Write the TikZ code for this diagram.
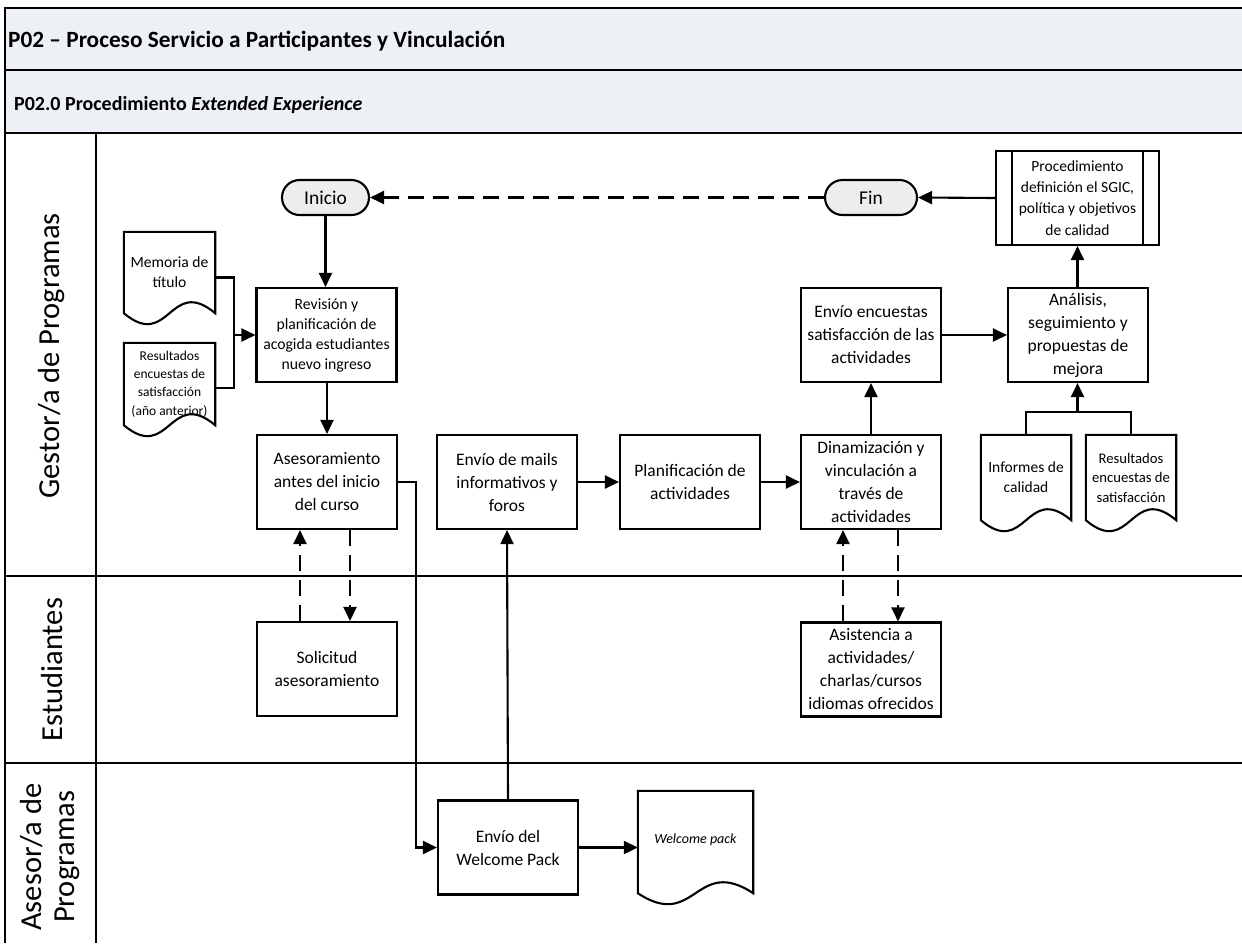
\documentclass[tikz,border=0pt]{standalone}
\usepackage{fontspec}
\setmainfont{Carlito}
\usetikzlibrary{arrows.meta,shapes.misc,calc}
\definecolor{hdrfill}{HTML}{EDF0F5}
\definecolor{termfill}{HTML}{EDEDED}
\newcommand{\docshape}[1]{%
  \draw[docline] (#1.south west) -- (#1.north west) -- (#1.north east) -- (#1.south east)
    .. controls ($(#1.south)+(0,-38)$) and ($(#1.south)+(0,38)$) .. (#1.south west) -- cycle;}
\tikzset{
  frame/.style={line width=2.6pt},
  laneline/.style={line width=2.2pt},
  docline/.style={line width=2.1pt},
  conn/.style={line width=2.1pt},
  box/.style={draw, line width=2.1pt, minimum width=140pt, minimum height=94pt,
    align=center, inner sep=1pt, font=\fontsize{17.5}{23}\selectfont},
  smallbox/.style={box, font=\fontsize{15.7}{20}\selectfont},
  term/.style={draw, rounded rectangle, fill=termfill, line width=2.1pt,
    minimum height=35pt, inner sep=0pt, font=\fontsize{19.5}{22}\selectfont},
  docnode/.style={inner sep=0pt, align=center},
  arr/.style={conn, -{Triangle[length=14pt,width=13pt]}},
  darr/.style={arr, dash pattern=on 16pt off 9pt},
  lanelabel/.style={rotate=90, align=center, font=\fontsize{30.5}{33}\selectfont}
}
\begin{document}
\begin{tikzpicture}[x=1pt,y=-1pt]
\useasboundingbox (0,0) rectangle (1242,943);
% header bands
\fill[hdrfill] (5,8) rectangle (1242,133);
\draw[frame] (1242,8) -- (5,8) -- (5,943);
\draw[frame] (5,70) -- (1242,70);
\draw[frame] (5,133) -- (1242,133);
\draw[laneline] (96,133) -- (96,943);
\draw[laneline] (5,576) -- (1242,576);
\draw[laneline] (5,763) -- (1242,763);
\node[anchor=base west, inner sep=0pt, font=\fontsize{23.3}{28}\selectfont\bfseries] (title) at (8,47)
  {P02 – Proceso Servicio a Participantes y Vinculación};
\node[anchor=base west, inner sep=0pt, font=\fontsize{20}{24}\selectfont\bfseries] (subtitle) at (14,110)
  {P02.0 Procedimiento \textit{Extended Experience}};
% lane labels
\node[lanelabel] (lgestor) at (52,356) {Gestor/a de Programas};
\node[lanelabel] (lest) at (52,669.5) {Estudiantes};
\node[lanelabel] (lases) at (50,857) {Asesor/a de\\Programas};
% terminators
\node[term, minimum width=87pt] (inicio) at (325.5,197.5) {Inicio};
\node[term, minimum width=92pt] (fin) at (871,197.5) {Fin};
% predefined process
\node[draw, line width=2.1pt, minimum width=163pt, minimum height=94pt, inner sep=0pt,
  align=center, font=\fontsize{15.5}{21.3}\selectfont] (sgic) at (1077.5,198)
  {Procedimiento\\definición el SGIC,\\política y objetivos\\de calidad};
\draw[conn] ($(sgic.north west)+(17,0)$) -- ($(sgic.south west)+(17,0)$);
\draw[conn] ($(sgic.north east)+(-17,0)$) -- ($(sgic.south east)+(-17,0)$);
% process boxes
\node[smallbox] (revision) at (326.5,335) {Revisión y\\planificación de\\acogida estudiantes\\nuevo ingreso};
\node[box] (asesor) at (327,482) {Asesoramiento\\antes del inicio\\del curso};
\node[box] (mails) at (507,482) {Envío de mails\\informativos y\\foros};
\node[box] (planif) at (690,482) {Planificación de\\actividades};
\node[box] (dinam) at (871,482) {Dinamización y\\vinculación a\\través de\\actividades};
\node[box] (encuestas) at (871,335) {Envío encuestas\\satisfacción de las\\actividades};
\node[box] (analisis) at (1078,335) {Análisis,\\seguimiento y\\propuestas de\\mejora};
\node[box] (solicitud) at (327,669) {Solicitud\\asesoramiento};
\node[box] (asistencia) at (871,669.5) {Asistencia a\\actividades/\\charlas/cursos\\idiomas ofrecidos};
\node[box] (wbox) at (508,847.5) {Envío del\\Welcome Pack};
% documents
\node[docnode, minimum width=91pt, minimum height=81pt, font=\fontsize{15.6}{20}\selectfont] (memoria) at (169.5,272.5) {Memoria de\\título};
\docshape{memoria}
\node[docnode, minimum width=91pt, minimum height=82pt, font=\fontsize{13.5}{18.3}\selectfont] (res1) at (169.5,384) {Resultados\\encuestas de\\satisfacción\\(año anterior)};
\docshape{res1}
\node[docnode, minimum width=90pt, minimum height=85pt, font=\fontsize{15.5}{20}\selectfont] (informes) at (1026,477.5) {Informes de\\calidad};
\docshape{informes}
\node[docnode, minimum width=90pt, minimum height=85pt, font=\fontsize{14.7}{19.5}\selectfont] (res2) at (1131,477.5) {Resultados\\encuestas de\\satisfacción};
\docshape{res2}
\node[docnode, minimum width=115pt, minimum height=102pt, font=\fontsize{14}{17}\selectfont\itshape] (wdoc) at (695.5,842) {\raisebox{6pt}{Welcome pack}};
\docshape{wdoc}
% connectors
\coordinate (jl) at (234,335);
\coordinate (jr) at (1077.5,412);
\draw[conn] ($(memoria.east)+(0,5)$) -| (jl);
\draw[conn] ($(res1.east)+(0,4)$) -| (jl);
\draw[arr] (jl) -- (revision.west);
\draw[arr] (inicio.south) -- (inicio.south |- revision.north);
\draw[arr] (revision.south -| asesor.north) -- (asesor.north);
\draw[darr] ($(solicitud.north)+(-27,0)$) -- ($(asesor.south)+(-27,0)$);
\draw[darr] ($(asesor.south)+(23,0)$) -- ($(solicitud.north)+(23,0)$);
\draw[arr] (asesor.east) -| ($(wbox.west)+(-21,0)$) -- (wbox.west);
\draw[arr] (wbox.north) -- (mails.south);
\draw[arr] (wbox.east) -- (wbox.east -| wdoc.west);
\draw[arr] (mails.east) -- (planif.west);
\draw[arr] (planif.east) -- (dinam.west);
\draw[darr] ($(asistencia.north)+(-28,0)$) -- ($(dinam.south)+(-28,0)$);
\draw[darr] ($(dinam.south)+(27,0)$) -- ($(asistencia.north)+(27,0)$);
\draw[arr] (dinam.north) -- (encuestas.south);
\draw[arr] (encuestas.east) -- (analisis.west);
\draw[conn] (informes.north) |- (jr);
\draw[conn] (res2.north) |- (jr);
\draw[arr] (jr) -- (jr |- analisis.south);
\draw[arr] (analisis.north -| sgic.south) -- (sgic.south);
\draw[arr] (sgic.west) -- (fin.east);
\draw[darr] (fin.west) -- (inicio.east);
\end{tikzpicture}
\end{document}
